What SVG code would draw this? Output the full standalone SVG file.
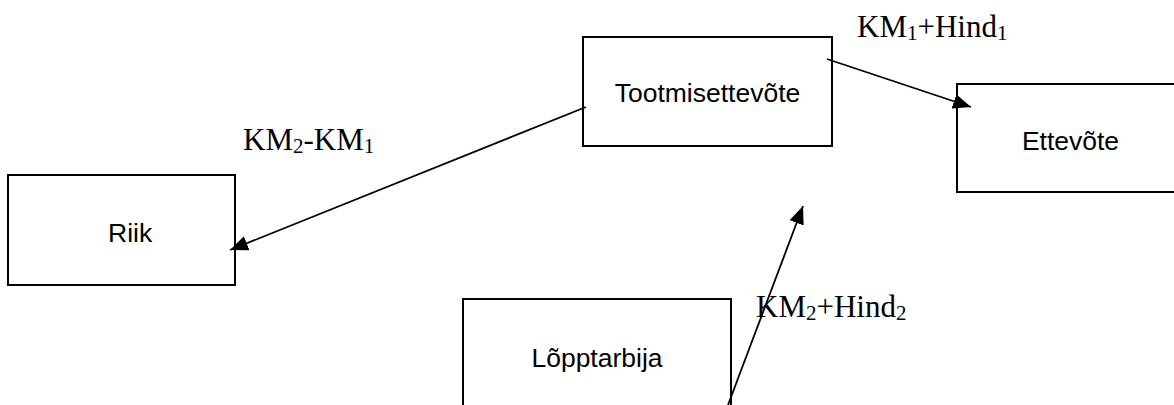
<svg xmlns="http://www.w3.org/2000/svg" width="1174" height="405" viewBox="0 0 1174 405">
<style>
.box{fill:#fff;stroke:#000;stroke-width:2}
.lbl{font-family:"Liberation Sans",Arial,sans-serif;font-size:26.5px;fill:#000}
.math{font-family:"Liberation Serif","Times New Roman",serif;font-size:31px;fill:#000}
.sub{font-size:21px}
.conn{stroke:#000;stroke-width:1.8;fill:none;marker-end:url(#ah)}
</style>
<defs>
<marker id="ah" markerUnits="userSpaceOnUse" markerWidth="20" markerHeight="16" refX="18" refY="7.5" orient="auto" viewBox="0 0 20 16">
<path d="M0,0 L18,7.5 L0,15 Z" fill="#000"/>
</marker>
</defs>
<rect width="1174" height="405" fill="#fff"/>
<g id="node-tootmisettevote">
<rect class="box" x="583" y="37" width="249" height="109"/>
<text class="lbl" x="707.5" y="102" text-anchor="middle">Tootmisettevõte</text>
</g>
<g id="node-ettevote">
<rect class="box" x="957" y="84" width="227" height="108"/>
<text class="lbl" x="1070.5" y="150" text-anchor="middle">Ettevõte</text>
</g>
<g id="node-riik">
<rect class="box" x="8" y="175" width="227" height="110"/>
<text class="lbl" x="108" y="242">Riik</text>
</g>
<g id="node-lopptarbija">
<rect class="box" x="463" y="299" width="268" height="120"/>
<text class="lbl" x="597" y="367" text-anchor="middle">Lõpptarbija</text>
</g>
<g id="connectors">
<line class="conn" x1="827" y1="59" x2="971" y2="107"/>
<line class="conn" x1="586" y1="107" x2="230" y2="250"/>
<line class="conn" x1="728" y1="405" x2="803" y2="206"/>
</g>
<g id="labels">
<text class="math" x="857" y="37">KM<tspan class="sub" dy="3">1</tspan><tspan dy="-3">+Hind</tspan><tspan class="sub" dy="3">1</tspan></text>
<text class="math" x="243" y="150">KM<tspan class="sub" dy="3">2</tspan><tspan dy="-3">-KM</tspan><tspan class="sub" dy="3">1</tspan></text>
<text class="math" x="756" y="317">KM<tspan class="sub" dy="3">2</tspan><tspan dy="-3">+Hind</tspan><tspan class="sub" dy="3">2</tspan></text>
</g>
</svg>
